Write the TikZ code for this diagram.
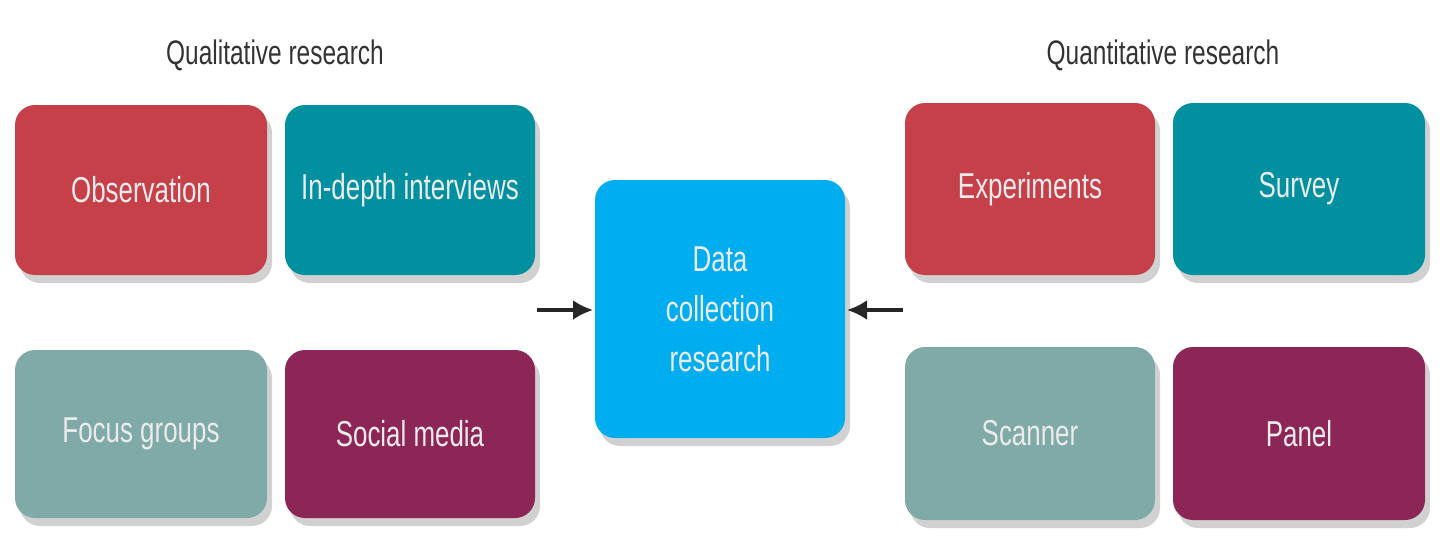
\documentclass[tikz,border=0pt]{standalone}
\usepackage{fontspec}
\setmainfont[FakeStretch=0.72]{Liberation Sans}
\usetikzlibrary{shadows,arrows.meta}
\definecolor{cred}{HTML}{C6404A}
\definecolor{cteal}{HTML}{00909F}
\definecolor{csage}{HTML}{7FAAA8}
\definecolor{cpurp}{HTML}{8B2657}
\definecolor{cblue}{HTML}{00AEEF}
\tikzset{
  cardshape/.style={rounded corners=20pt,
    drop shadow={shadow xshift=5pt, shadow yshift=-8pt, opacity=0.18, fill=black}},
  cardtext/.style={text=white!92!black, font=\fontsize{36}{46}\selectfont, align=center},
  ttl/.style={font=\fontsize{34}{40}\selectfont, text=black!80},
  arr/.style={-{Latex[length=20pt,width=20pt]}, line width=3.5pt, black!85}
}
\newcommand{\cardbox}[7]{% name, x1,y1,x2,y2,color,text
  \fill[cardshape, fill=#6] (#2,#3) rectangle (#4,#5);
  \node[cardtext] (#1) at ({(#2+#4)/2},{(#3+#5)/2}) {#7};}
\begin{document}
\begin{tikzpicture}[x=1pt,y=-1pt]
\useasboundingbox (0,0) rectangle (1440,550);
\cardbox{obs}{15}{105}{267}{275}{cred}{Observation}
\cardbox{idi}{285}{105}{535}{275}{cteal}{In-depth interviews}
\cardbox{foc}{15}{350}{267}{518}{csage}{Focus groups}
\cardbox{soc}{285}{350}{535}{518}{cpurp}{Social media}
\cardbox{dat}{595}{180}{845}{438}{cblue}{Data\\[4pt]collection\\[4pt]research}
\cardbox{exp}{905}{103}{1155}{275}{cred}{Experiments}
\cardbox{sur}{1173}{103}{1425}{275}{cteal}{Survey}
\cardbox{sca}{905}{347}{1155}{520}{csage}{Scanner}
\cardbox{pan}{1173}{347}{1425}{520}{cpurp}{Panel}
\node[ttl] (ql) at (275,55) {Qualitative research};
\node[ttl] (qn) at (1163,55) {Quantitative research};
\coordinate (la) at (537,310);
\coordinate (lb) at (593,310);
\coordinate (ra) at (903,310);
\coordinate (rb) at (847,310);
\draw[arr] (la) -- (lb);
\draw[arr] (ra) -- (rb);
\end{tikzpicture}
\end{document}
